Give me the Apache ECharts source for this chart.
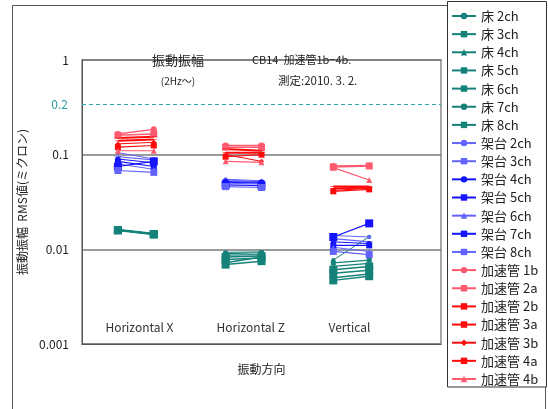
<!DOCTYPE html>
<html><head><meta charset="utf-8">
<script src="https://cdn.jsdelivr.net/npm/echarts@6/dist/echarts.min.js"></script>
<style>html,body{margin:0;padding:0;background:#fff}#c{width:548px;height:409px}</style>
</head><body><div id="c"></div>
<script>
// x positions of the two measurements in each direction group
const xPos = [1, 2, 4, 5, 7, 8];
const categories = ['Horizontal X', 'Horizontal Z', 'Vertical'];
const catPos = [1.6, 4.7, 7.45];
const yTicks = ['1', '0.1', '0.01', '0.001'];
const refLineValue = 0.343; const refLineLabel = '0.2';

// values: [HX a, HX b, HZ a, HZ b, V a, V b]
const floor2ch = [0.0160, 0.0145, 0.0093, 0.0094, 0.0077, 0.0136];
const floor3ch = [0.0161, 0.0146, 0.0090, 0.0092, 0.0072, 0.0077];
const floor4ch = [0.0159, 0.0144, 0.0087, 0.0088, 0.0066, 0.0071];
const floor5ch = [0.0160, 0.0145, 0.0083, 0.0085, 0.0061, 0.0066];
const floor6ch = [0.0158, 0.0143, 0.0078, 0.0081, 0.0056, 0.0060];
const floor7ch = [0.0162, 0.0147, 0.0072, 0.0083, 0.0050, 0.0055];
const floor8ch = [0.0160, 0.0145, 0.0069, 0.0075, 0.0047, 0.0052];

const stand2ch = [0.105, 0.090, 0.055, 0.053, 0.0140, 0.0135];
const stand3ch = [0.095, 0.088, 0.054, 0.052, 0.0130, 0.0120];
const stand4ch = [0.090, 0.082, 0.052, 0.051, 0.0120, 0.0115];
const stand5ch = [0.085, 0.075, 0.051, 0.050, 0.0110, 0.0110];
const stand6ch = [0.080, 0.070, 0.050, 0.049, 0.0105, 0.0095];
const stand7ch = [0.075, 0.085, 0.048, 0.047, 0.0135, 0.0188];
const stand8ch = [0.068, 0.065, 0.046, 0.045, 0.0095, 0.0088];

const acc1b = [0.165, 0.185, 0.125, 0.125, 0.076, 0.077];
const acc2a = [0.160, 0.165, 0.120, 0.120, 0.074, 0.076];
const acc2b = [0.150, 0.155, 0.115, 0.110, 0.046, 0.046];
const acc3a = [0.140, 0.145, 0.105, 0.105, 0.044, 0.045];
const acc3b = [0.130, 0.135, 0.100, 0.085, 0.042, 0.044];
const acc4a = [0.120, 0.125, 0.095, 0.100, 0.041, 0.043];
const acc4b = [0.110, 0.110, 0.085, 0.083, 0.073, 0.054];

const TEAL = '#15827a', BLUE = '#1414ff', BLUE_L = '#6262ff', RED = '#ff0a0a', RED_L = '#ff5a6e';
const DASH = 'path://M0,0h10v3h-10z';

// name, values, colour, symbol, size, line width, legend icon
const seriesDefs = [
  ['床 2ch', floor2ch, TEAL, 'circle', 4, 1],
  ['床 3ch', floor3ch, TEAL, 'rect', 5, 1.2],
  ['床 4ch', floor4ch, TEAL, 'triangle', 5, 1.2],
  ['床 5ch', floor5ch, TEAL, 'rect', 8, 1.5],
  ['床 6ch', floor6ch, TEAL, 'rect', 8, 1.5],
  ['床 7ch', floor7ch, TEAL, 'circle', 6, 1.5],
  ['床 8ch', floor8ch, TEAL, 'rect', 8, 1.5],
  ['架台 2ch', stand2ch, BLUE_L, 'circle', 4, 1],
  ['架台 3ch', stand3ch, BLUE_L, DASH, [7, 2.5], 1.2, 'none'],
  ['架台 4ch', stand4ch, BLUE, 'circle', 5, 1],
  ['架台 5ch', stand5ch, BLUE, 'rect', 6, 1.2],
  ['架台 6ch', stand6ch, BLUE_L, 'triangle', 5, 1],
  ['架台 7ch', stand7ch, BLUE, 'rect', 8, 1.2],
  ['架台 8ch', stand8ch, BLUE_L, 'rect', 7, 1.2],
  ['加速管 1b', acc1b, RED_L, 'circle', 6, 1.5],
  ['加速管 2a', acc2a, RED_L, 'rect', 7, 1.5],
  ['加速管 2b', acc2b, RED, DASH, [6, 2], 2, 'none'],
  ['加速管 3a', acc3a, RED, DASH, [6, 2], 2, 'none'],
  ['加速管 3b', acc3b, RED, 'diamond', 5, 1],
  ['加速管 4a', acc4a, RED, 'rect', 6, 1.2],
  ['加速管 4b', acc4b, RED_L, 'triangle', 6, 1.2]
];

function toData(vals) {
  const d = [];
  for (let i = 0; i < vals.length; i++) {
    d.push([xPos[i], vals[i]]);
    if (i % 2 === 1 && i < vals.length - 1) d.push([xPos[i] + 1, '-']);
  }
  return d;
}

const FONT = '"Noto Sans CJK JP", "Noto Sans", sans-serif';
const series = seriesDefs.map((s, idx) => {
  const o = {
    name: s[0], type: 'line', data: toData(s[1]),
    symbol: s[3], symbolSize: s[4], symbolKeepAspect: true, connectNulls: false,
    lineStyle: { color: s[2], width: s[5] },
    itemStyle: { color: s[2] },
    animation: false, z: 3
  };
  if (s[6]) o.legendIcon = s[6];
  return o;
});
series[0].markLine = {
  silent: true, symbol: 'none',
  lineStyle: { color: '#2aa7a7', type: [4, 3], width: 1 },
  label: { show: true, position: 'start', formatter: refLineLabel, color: '#2a9d9d', fontSize: 12, distance: 14, fontFamily: FONT },
  data: [{ yAxis: refLineValue }]
};

const chart = echarts.init(document.getElementById('c'), null, { renderer: 'canvas' });
chart.setOption({
  animation: false,
  textStyle: { fontFamily: FONT },
  grid: { left: 82, right: 107, top: 60, bottom: 65, show: true, borderColor: '#8a8a8a', borderWidth: 1.5 },
  xAxis: {
    type: 'value', min: 0, max: 10,
    name: '振動方向', nameLocation: 'middle', nameGap: 19,
    nameTextStyle: { fontSize: 12, color: '#222', fontFamily: FONT },
    axisLine: { show: true, lineStyle: { color: '#555', width: 1 } },
    axisTick: { show: false },
    splitLine: { show: false },
    axisLabel: {
      inside: true, margin: 11, fontSize: 12, color: '#333', fontFamily: FONT,
      customValues: catPos,
      formatter: v => { const i = catPos.findIndex(p => Math.abs(p - v) < 1e-6); return i >= 0 ? categories[i] : ''; }
    }
  },
  yAxis: {
    type: 'log', logBase: 10, min: 0.001, max: 1,
    name: '振動振幅  RMS値(ミクロン)', nameLocation: 'middle', nameRotate: 90, nameGap: 47,
    nameTextStyle: { fontSize: 12, color: '#222', fontFamily: FONT },
    axisLine: { show: true, lineStyle: { color: '#555', width: 1 } },
    axisTick: { show: false },
    axisLabel: { fontSize: 12, color: '#222', margin: 13, fontFamily: FONT,
      formatter: v => { const s = yTicks.find(t => Math.abs(parseFloat(t) - v) / v < 1e-6); return s || ''; } },
    splitLine: { show: true, lineStyle: { color: '#7a7a7a', width: 1.5 } }
  },
  legend: {
    orient: 'vertical', left: 451, top: 9.5, padding: 0,
    itemWidth: 24, itemHeight: 8, itemGap: 5.15,
    textStyle: { fontSize: 13, color: '#222', lineHeight: 13, fontFamily: FONT },
    data: seriesDefs.map(s => s[0])
  },
  graphic: [
    { type: 'rect', shape: { x: 12.5, y: 5.5, width: 533, height: 420 }, style: { fill: 'none', stroke: '#555', lineWidth: 1 }, z: 0, silent: true },
    { type: 'rect', shape: { x: 447.5, y: 1.5, width: 99, height: 385.5 }, style: { fill: '#fff', stroke: '#333', lineWidth: 1 }, z: 1, silent: true },
    { type: 'text', x: 178, y: 60, style: { text: '振動振幅', font: '13px ' + FONT, fill: '#222', align: 'center', verticalAlign: 'middle' }, z: 10 },
    { type: 'text', x: 252, y: 60, style: { text: 'CB14  加速管1b−4b.', font: '11px ' + FONT, fill: '#222', align: 'left', verticalAlign: 'middle' }, z: 10 },
    { type: 'text', x: 178, y: 81, style: { text: '(2Hz〜)', font: '10px ' + FONT, fill: '#222', align: 'center', verticalAlign: 'middle' }, z: 10 },
    { type: 'text', x: 278, y: 81, style: { text: '測定:2010. 3. 2.', font: '11.5px ' + FONT, fill: '#222', align: 'left', verticalAlign: 'middle' }, z: 10 }
  ],
  series: series
});
</script></body></html>
